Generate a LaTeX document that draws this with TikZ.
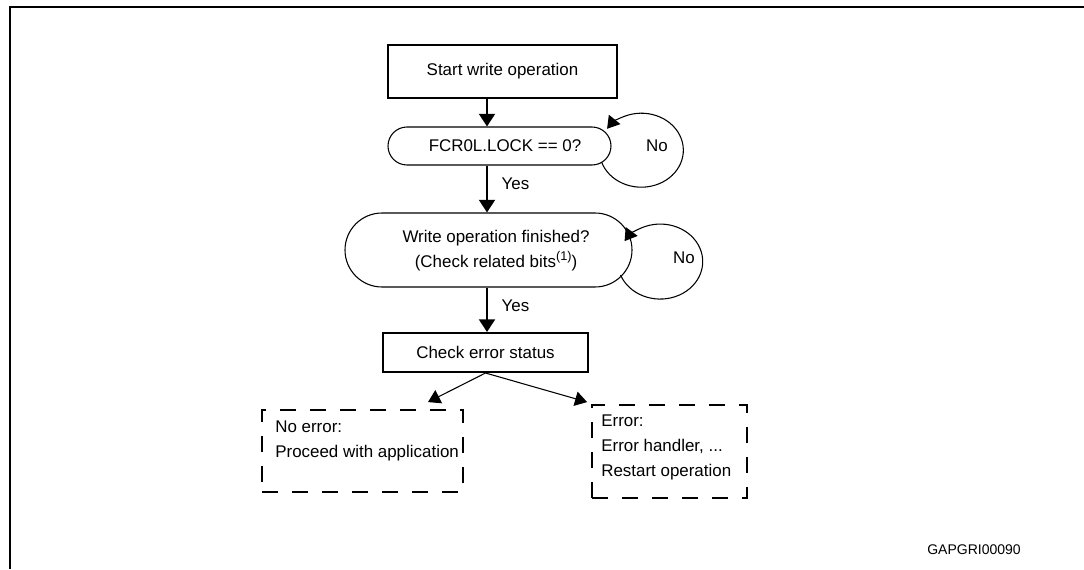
\documentclass[tikz,border=0pt]{standalone}
\usepackage{fontspec}
\setmainfont{Liberation Sans}
\usetikzlibrary{arrows.meta}

\newcommand{\supnote}[1]{\raisebox{0.42em}{\fontsize{9.5}{9.5}\selectfont #1}}

\begin{document}
\begin{tikzpicture}[
        x=0.75pt, y=0.75pt,
        every node/.style={font=\fontsize{12.7}{18.75}\selectfont},
        stepbox/.style={draw, line width=1.5pt, inner sep=0pt},
        pill/.style={draw, line width=0.8pt, inner sep=0pt, align=center},
        dashbox/.style={draw, line width=1.4pt, dash pattern=on 12pt off 10.5pt, inner sep=0pt},
        arr/.style={-{Triangle[width=12pt,length=9.5pt]}, line width=1.5pt},
        thinarr/.style={-{Triangle[width=11pt,length=9pt]}, line width=0.8pt}
    ]
        \useasboundingbox (0,0) rectangle (1084,569);

        % Frame of the figure
        \draw[line width=1.9pt] (9,562) -- (1084,562);
        \draw[line width=1.2pt] (10,562) -- (10,0);

        % Flow boxes
        \node[stepbox, minimum width=171.75pt, minimum height=39.75pt] (start) at (502.5,497.5) {Start write operation};
        \node[pill, minimum width=167.25pt, minimum height=28.5pt, rounded corners=14.25pt] (lock) at (499.5,423) {};
        \node (locktext) at (505,423) {FCR0L.LOCK == 0?};
        \node[pill, minimum width=215.25pt, minimum height=55.5pt, rounded corners=27.75pt] (finish) at (488.5,319) {};
        \node[align=center] (finishtext) at (496,318) {Write operation finished?\\(Check related bits\supnote{(1)})};
        \node[stepbox, minimum width=153.75pt, minimum height=29.25pt] (check) at (485.5,216.5) {Check error status};

        % Result boxes
        \node[dashbox, minimum width=150.75pt, minimum height=61.5pt] (noerr) at (362.5,118) {};
        \node[dashbox, minimum width=116.25pt, minimum height=69.75pt] (err) at (669.5,117.5) {};
        \node[anchor=north west, align=left, inner sep=0pt] (noerrtext) at ([shift={(14,-12)}]noerr.north west) {No error:\\Proceed with application};
        \node[anchor=north west, align=left, inner sep=0pt] (errtext) at ([shift={(10,-11)}]err.north west) {Error:\\Error handler, ...\\Restart operation};

        % Main axis of the vertical arrows
        \coordinate (axis) at (487,0);

        \draw[arr] (start.south -| axis) -- (lock.north -| axis);
        \draw[arr] (lock.south -| axis) -- (finish.north -| axis);
        \draw[arr] (finish.south -| axis) -- (check.north -| axis);
        \node[anchor=west] (yes1) at (497,385) {Yes};
        \node[anchor=west] (yes2) at (497,263) {Yes};

        % Wait loops
        \draw[thinarr] ([shift={(-10,-16)}]lock.east) arc[start angle=198.6, end angle=504.6, x radius=42, y radius=37];
        \node (no1) at (657,423) {No};
        \draw[thinarr] ([shift={(-12,-25)}]finish.east) arc[start angle=201, end angle=507, x radius=42.5, y radius=37.5];
        \node (no2) at (684,311) {No};

        % Branches to the results
        \draw[thinarr] (check.south) -- ([shift={(65.5,7)}]noerr.north);
        \draw[thinarr] (check.south) -- ([shift={(-4,2)}]err.north west);

        \node[font=\fontsize{10.5}{12}\selectfont] (ref) at (974,19) {GAPGRI00090};
    \end{tikzpicture}
\end{document}
